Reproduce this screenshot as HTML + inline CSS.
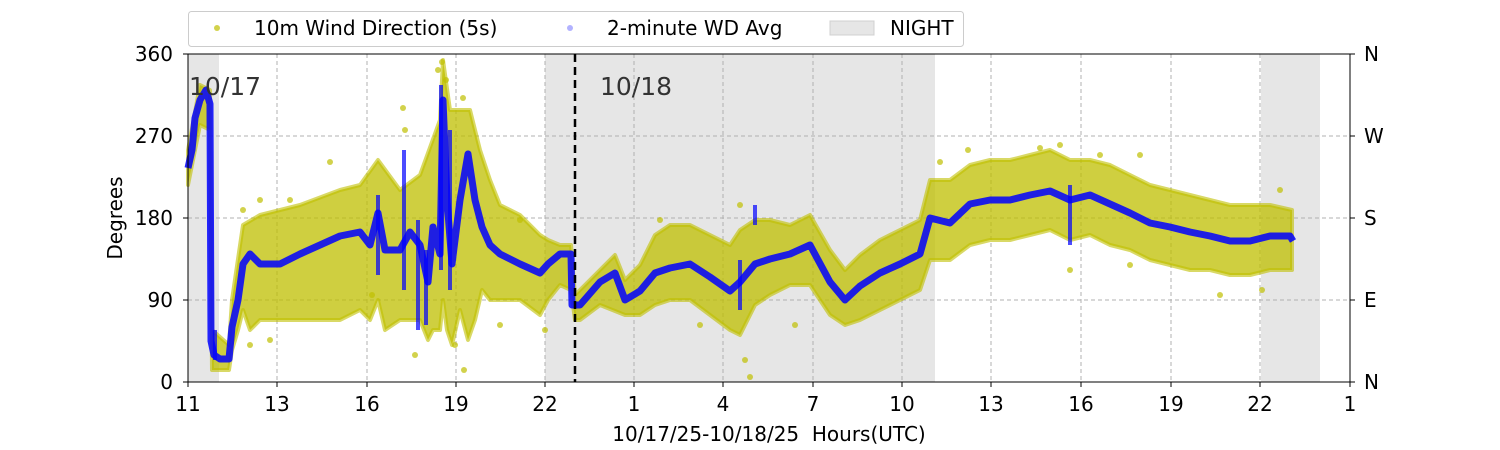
<!DOCTYPE html>
<html><head><meta charset="utf-8"><style>
body{margin:0;background:#fff;}
svg{display:block;font-family:"DejaVu Sans","Liberation Sans",sans-serif;}
</style></head><body>
<svg width="1500" height="450" xmlns="http://www.w3.org/2000/svg">
<rect width="1500" height="450" fill="#fff"/>
<g fill="#e6e6e6">
<rect x="188" y="54" width="31" height="328"/>
<rect x="545" y="54" width="390" height="328"/>
<rect x="1261" y="54" width="59" height="328"/>
</g>
<g stroke="#b0b0b0" stroke-dasharray="4,3" stroke-width="1">
<line x1="188" x2="1350" y1="136" y2="136"/><line x1="188" x2="1350" y1="218" y2="218"/><line x1="188" x2="1350" y1="300" y2="300"/>
<line x1="277" x2="277" y1="54" y2="382"/><line x1="367" x2="367" y1="54" y2="382"/><line x1="456" x2="456" y1="54" y2="382"/><line x1="545" x2="545" y1="54" y2="382"/><line x1="634" x2="634" y1="54" y2="382"/><line x1="723" x2="723" y1="54" y2="382"/><line x1="813" x2="813" y1="54" y2="382"/><line x1="902" x2="902" y1="54" y2="382"/><line x1="991" x2="991" y1="54" y2="382"/><line x1="1081" x2="1081" y1="54" y2="382"/><line x1="1171" x2="1171" y1="54" y2="382"/><line x1="1260" x2="1260" y1="54" y2="382"/>
</g>
<polygon fill="#bfbf00" fill-opacity="0.75" stroke="#bfbf00" stroke-opacity="0.6" stroke-width="4" stroke-linejoin="round" points="188,150 200,85 210,90 212,330 229,345 232,300 243,225 260,215 300,205 340,190 360,185 378,160 400,190 420,175 440,120 443,60 450,110 460,110 470,110 480,150 490,180 500,205 520,215 540,235 548,240 560,245 571,245 575,295 600,270 615,255 625,280 640,265 655,235 670,225 690,225 710,235 730,245 740,230 755,220 770,220 790,225 810,215 830,250 845,270 860,255 880,240 900,230 920,220 930,180 950,180 970,165 990,160 1010,160 1030,155 1050,150 1070,160 1090,160 1110,165 1130,175 1150,185 1170,190 1190,195 1210,200 1230,205 1250,205 1270,205 1292,210 1292,270 1270,270 1250,275 1230,275 1210,270 1190,270 1170,265 1150,260 1130,250 1110,245 1090,235 1070,240 1050,230 1030,235 1010,240 990,240 970,245 950,260 930,260 920,290 900,300 880,310 860,320 845,325 830,315 810,285 790,285 770,295 755,305 740,335 730,330 710,315 690,300 670,300 655,305 640,315 625,315 600,305 580,320 575,320 571,290 560,285 548,300 540,315 520,300 500,300 490,300 482,290 475,320 468,340 460,310 452,345 447,330 443,300 440,330 433,330 428,340 420,320 410,320 400,320 385,330 378,300 370,320 360,310 340,320 320,320 300,320 280,320 260,320 250,330 243,310 238,330 232,350 229,370 212,370 210,130 200,125 188,185"/>
<g fill="#bfbf00" fill-opacity="0.7">
<circle cx="243" cy="210" r="3"/><circle cx="260" cy="200" r="3"/><circle cx="290" cy="200" r="3"/><circle cx="330" cy="162" r="3"/><circle cx="372" cy="295" r="3"/><circle cx="403" cy="108" r="3"/><circle cx="405" cy="130" r="3"/><circle cx="415" cy="355" r="3"/><circle cx="438" cy="70" r="3"/><circle cx="442" cy="62" r="3"/><circle cx="446" cy="80" r="3"/><circle cx="463" cy="98" r="3"/><circle cx="464" cy="370" r="3"/><circle cx="455" cy="345" r="3"/><circle cx="250" cy="345" r="3"/><circle cx="270" cy="340" r="3"/><circle cx="500" cy="325" r="3"/><circle cx="520" cy="220" r="3"/><circle cx="545" cy="330" r="3"/><circle cx="660" cy="220" r="3"/><circle cx="700" cy="325" r="3"/><circle cx="740" cy="205" r="3"/><circle cx="745" cy="360" r="3"/><circle cx="750" cy="377" r="3"/><circle cx="795" cy="325" r="3"/><circle cx="940" cy="162" r="3"/><circle cx="968" cy="150" r="3"/><circle cx="1040" cy="148" r="3"/><circle cx="1060" cy="145" r="3"/><circle cx="1100" cy="155" r="3"/><circle cx="1140" cy="155" r="3"/><circle cx="1220" cy="295" r="3"/><circle cx="1262" cy="290" r="3"/><circle cx="1280" cy="190" r="3"/><circle cx="1070" cy="270" r="3"/><circle cx="1130" cy="265" r="3"/>
</g>
<polyline fill="none" stroke="#0000ff" stroke-opacity="0.85" stroke-width="7" stroke-linejoin="round" points="188,168 192,150 195,118 200,100 206,90 210,104 211,341 214,355 220,359 229,359 232,327 238,300 243,264 250,254 260,264 280,264 300,254 320,245 340,236 360,232 370,245 378,213 385,250 400,250 410,232 420,245 428,282 433,227 440,254 443,100 447,200 452,264 460,200 468,154 475,200 482,227 490,245 500,254 520,264 540,273 548,264 560,254 571,254 572,305 580,305 600,282 615,273 625,300 640,291 655,273 670,268 690,264 710,277 730,291 740,282 755,264 770,259 790,254 810,245 830,282 845,300 860,286 880,273 900,264 920,254 930,218 950,223 970,204 990,200 1010,200 1030,195 1050,191 1070,200 1090,195 1110,204 1130,213 1150,223 1170,227 1190,232 1210,236 1230,241 1250,241 1270,236 1290,236 1293,241"/>
<g stroke="#0000ff" stroke-width="4" stroke-opacity="0.7">
<line x1="378" y1="195" x2="378" y2="275"/><line x1="404" y1="150" x2="404" y2="290"/><line x1="418" y1="220" x2="418" y2="330"/><line x1="426" y1="250" x2="426" y2="325"/><line x1="441" y1="85" x2="441" y2="270"/><line x1="450" y1="130" x2="450" y2="290"/><line x1="215" y1="330" x2="215" y2="360"/><line x1="740" y1="260" x2="740" y2="310"/><line x1="755" y1="205" x2="755" y2="225"/><line x1="1070" y1="185" x2="1070" y2="245"/>
</g>
<line x1="575" x2="575" y1="54" y2="382" stroke="#000" stroke-width="2.5" stroke-dasharray="8,5"/>
<text x="189" y="95" font-size="25" fill="#333">10/17</text>
<text x="600" y="95" font-size="25" fill="#333">10/18</text>
<rect x="188" y="54" width="1162" height="328" fill="none" stroke="#000" stroke-width="1"/>
<g font-size="20" fill="#000" text-anchor="end">
<text x="173" y="61">360</text><text x="173" y="143">270</text><text x="173" y="225">180</text><text x="173" y="307">90</text><text x="173" y="389">0</text>
</g>
<g font-size="20" fill="#000">
<text x="1364" y="61">N</text><text x="1364" y="143">W</text><text x="1364" y="225">S</text><text x="1364" y="307">E</text><text x="1364" y="389">N</text>
</g>
<g stroke="#000"><line x1="183" x2="188" y1="54" y2="54"/><line x1="183" x2="188" y1="136" y2="136"/><line x1="183" x2="188" y1="218" y2="218"/><line x1="183" x2="188" y1="300" y2="300"/><line x1="183" x2="188" y1="382" y2="382"/>
<line x1="1350" x2="1355" y1="54" y2="54"/><line x1="1350" x2="1355" y1="136" y2="136"/><line x1="1350" x2="1355" y1="218" y2="218"/><line x1="1350" x2="1355" y1="300" y2="300"/><line x1="1350" x2="1355" y1="382" y2="382"/>
<line x1="188" x2="188" y1="382" y2="387"/><line x1="277" x2="277" y1="382" y2="387"/><line x1="367" x2="367" y1="382" y2="387"/><line x1="456" x2="456" y1="382" y2="387"/><line x1="545" x2="545" y1="382" y2="387"/><line x1="634" x2="634" y1="382" y2="387"/><line x1="723" x2="723" y1="382" y2="387"/><line x1="813" x2="813" y1="382" y2="387"/><line x1="902" x2="902" y1="382" y2="387"/><line x1="991" x2="991" y1="382" y2="387"/><line x1="1081" x2="1081" y1="382" y2="387"/><line x1="1171" x2="1171" y1="382" y2="387"/><line x1="1260" x2="1260" y1="382" y2="387"/><line x1="1350" x2="1350" y1="382" y2="387"/></g>
<g font-size="20" fill="#000" text-anchor="middle">
<text x="188" y="411">11</text><text x="277" y="411">13</text><text x="367" y="411">16</text><text x="456" y="411">19</text><text x="545" y="411">22</text><text x="634" y="411">1</text><text x="723" y="411">4</text><text x="813" y="411">7</text><text x="902" y="411">10</text><text x="991" y="411">13</text><text x="1081" y="411">16</text><text x="1171" y="411">19</text><text x="1260" y="411">22</text><text x="1350" y="411">1</text>
</g>
<text x="769" y="441" font-size="20" text-anchor="middle" xml:space="preserve">10/17/25-10/18/25  Hours(UTC)</text>
<text transform="translate(122,218) rotate(-90)" font-size="20" text-anchor="middle">Degrees</text>
<rect x="188.5" y="11.5" width="775" height="35" rx="3" fill="#fff" stroke="#ccc"/>
<circle cx="217" cy="28" r="3" fill="#bfbf00" opacity="0.7"/>
<text x="254" y="35" font-size="20">10m Wind Direction (5s)</text>
<circle cx="570" cy="28" r="3" fill="#0000ff" opacity="0.3"/>
<text x="607" y="35" font-size="20">2-minute WD Avg</text>
<rect x="830" y="21" width="44" height="14" fill="#e6e6e6" stroke="#d0d0d0"/>
<text x="890" y="35" font-size="20">NIGHT</text>
</svg>
</body></html>
